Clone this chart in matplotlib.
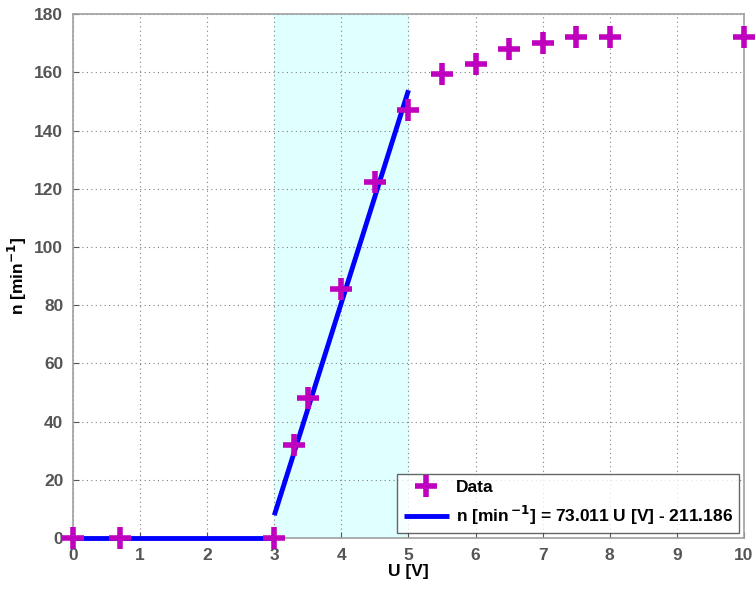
import numpy as np
import matplotlib
matplotlib.use('Agg')
import matplotlib.pyplot as plt

# measured data
u_data = [0, 0.7, 3, 3.3, 3.5, 4, 4.5, 5, 5.5, 6, 6.5, 7, 7.5, 8, 10]
n_data = [0, 0, 0, 32, 48, 85.5, 122.5, 147, 159.5, 163, 168, 170, 172, 172, 172]

# linear fit in the shaded range
slope = 73.011
offset = -211.186
fit_u = [3, 5]
zero_u = [0, 3]
shade_u = [3, 5]

x_ticks = list(range(0, 11))
y_ticks = list(range(0, 181, 20))

plt.rcParams['font.family'] = ['Liberation Sans', 'DejaVu Sans']

fig = plt.figure(figsize=(7.55, 5.9), dpi=100)
ax = fig.add_axes([0.0967, 0.088, 0.8887, 0.888])

ax.axvspan(shade_u[0], shade_u[1], color='#e0ffff', zorder=0)

ax.plot(zero_u, [0, 0], color='#0000ff', linewidth=3.5, solid_capstyle='butt', zorder=3, clip_on=False)
fit_n = [slope * u + offset for u in fit_u]
ax.plot(fit_u, fit_n, color='#0000ff', linewidth=3.5, solid_capstyle='butt', zorder=3,
        label=r'n [min$^{\,\mathbf{-1}}$] = 73.011 U [V] - 211.186')
ax.plot(u_data, n_data, linestyle='none', marker='+', markersize=16, markeredgewidth=4,
        color='#bf00bf', zorder=4, clip_on=False, label='Data')

ax.set_xlim(0, 10)
ax.set_ylim(0, 180)
ax.set_xticks(x_ticks)
ax.set_yticks(y_ticks)
ax.grid(True, linestyle=(0, (1, 3)), color='#808080', linewidth=0.8)
ax.set_axisbelow(True)
ax.tick_params(direction='in', length=4, colors='#555555', labelsize=12.5, pad=7)
for lab in ax.get_xticklabels() + ax.get_yticklabels():
    lab.set_fontweight('bold')
for s in ax.spines.values():
    s.set_color('#a0a0a0')
    s.set_linewidth(1.2)

ax.set_xlabel('U [V]', fontsize=12.5, fontweight='bold', labelpad=1)
ax.set_ylabel(r'n [min$^{\mathbf{-1}}$]', fontsize=12.5, fontweight='bold', labelpad=4)

handles, labels = ax.get_legend_handles_labels()
leg = ax.legend(handles[::-1], labels[::-1], loc='lower right', fontsize=12.5, frameon=True,
                fancybox=False, edgecolor='#404040', borderaxespad=0.3, handlelength=2.6,
                handletextpad=0.4, borderpad=0.35)
leg.get_frame().set_linewidth(1.0)
for t in leg.get_texts():
    t.set_fontweight('bold')

fig.savefig('out.png', dpi=100)
